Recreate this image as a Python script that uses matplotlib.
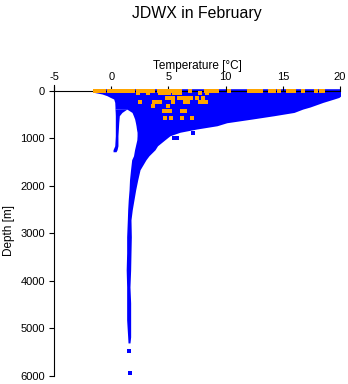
import matplotlib
matplotlib.use('Agg')
from matplotlib import pyplot as plt

plt.rcParams['font.family'] = ['Liberation Sans', 'DejaVu Sans']
plt.rcParams['axes.unicode_minus'] = False

# envelope of the blue profile cloud (main body + deep trunk)
body_depth = [-42, 36, 69, 105, 141, 175, 246, 343, 385, 389,
              457, 526, 596, 674, 737, 806, 874, 947, 1031, 1158,
              1242, 1368, 1452, 1663, 1873, 2084, 2294, 2505, 2715, 3073,
              3410, 3768, 4126, 4463, 4820, 5178, 5305]
body_tmin = [-1.53, -1.50, -0.80, -0.37, -0.08, 0.22, 0.31, 0.33, 0.33, 1.38,
             1.82, 1.94, 2.05, 2.12, 2.17, 2.21, 2.26, 2.26, 2.24, 2.12,
             2.04, 1.95, 1.79, 1.69, 1.60, 1.56, 1.49, 1.44, 1.41, 1.35,
             1.35, 1.31, 1.35, 1.35, 1.35, 1.44, 1.47]
body_tmax = [20.09, 20.09, 20.09, 20.09, 19.91, 19.47, 18.51, 17.38, 16.77, 16.72,
             15.98, 14.23, 12.31, 10.10, 9.25, 7.47, 6.01, 5.14, 4.70, 4.05,
             3.83, 3.30, 3.04, 2.52, 2.32, 2.14, 1.99, 1.84, 1.73, 1.76,
             1.73, 1.70, 1.64, 1.70, 1.70, 1.70, 1.64]

# thin cold branch on the left of the hole
branch_depth = [385, 457, 526, 667, 947, 1158, 1242, 1284]
branch_tmin = [0.33, 0.35, 0.36, 0.36, 0.36, 0.31, 0.16, 0.16]
branch_tmax = [1.38, 0.94, 0.71, 0.66, 0.59, 0.59, 0.51, 0.42]

# single blue stations away from the cloud
blue_temp = [5.45, 5.75, 7.18, 1.58, 1.67]
blue_depth = [996, 996, 890, 5473, 5943]

# orange (February) observations
surf_temp = [-1.42, -1.15, -0.89, -0.63, -0.19, 0.07, 0.33, 0.59, 0.86, 1.12,
             1.38, 1.64, 1.91, 2.34, 2.60, 2.87, 3.13, 3.39, 3.65, 4.18,
             4.44, 4.70, 4.97, 5.23, 5.49, 5.75, 6.01, 6.89, 8.29, 8.64,
             8.99, 9.25, 10.30, 12.05, 12.31, 12.57, 12.92, 13.10, 13.88, 14.23,
             14.67, 15.45, 15.72, 15.98, 16.77, 17.90, 18.34, 18.51]
deep_temp = [2.34, 3.22, 4.27, 4.53, 4.79, 5.05, 5.49, 5.75, 6.01, 7.76, 8.37,
             4.88, 5.14, 5.40, 5.93, 6.19, 6.45, 6.71, 6.98, 7.50, 8.02,
             2.52, 3.74, 4.00, 4.27, 5.40, 6.45, 6.71, 7.76, 8.02, 8.29,
             3.65, 4.97,
             4.62, 4.88, 5.14, 6.19, 6.45,
             4.70, 5.23, 6.19, 7.06]
deep_depth = [42] * 11 + [158] * 10 + [242] * 10 + [326] * 2 + [432] * 5 + [568] * 4

fig = plt.figure(figsize=(3.48, 3.84), dpi=100)
ax = fig.add_axes([54 / 348, 8 / 384, 286 / 348, 291 / 384])

ax.fill_betweenx(body_depth, body_tmin, body_tmax, color='blue', lw=0, antialiased=False)
ax.fill_betweenx(branch_depth, branch_tmin, branch_tmax, color='blue', lw=0, antialiased=False)
ax.scatter(blue_temp, blue_depth, s=5, marker='s', color='blue', linewidths=0)

ax.scatter(surf_temp, [0] * len(surf_temp), s=5, marker='s', color='orange', linewidths=0, zorder=3)
ax.scatter(deep_temp, deep_depth, s=5, marker='s', color='orange', linewidths=0, zorder=3)

ax.set_xlim(-5, 20)
ax.set_ylim(6000, -120)
ax.set_xticks([-5, 0, 5, 10, 15, 20])
ax.set_yticks([0, 1000, 2000, 3000, 4000, 5000, 6000])

ax.spines['top'].set_position(('data', 0))
ax.spines['bottom'].set_visible(False)
ax.spines['right'].set_visible(False)
ax.xaxis.set_ticks_position('top')
ax.xaxis.set_label_position('top')
ax.tick_params(direction='out', length=3.6, width=0.8, labelsize=8, pad=3)

ax.set_xlabel('Temperature [°C]', fontsize=8.5)
ax.xaxis.set_label_coords(0.5, 1.055)
ax.set_ylabel('Depth [m]', fontsize=8.5)
ax.yaxis.set_label_coords(-0.136, 0.5)

fig.text(197 / 348, 1 - 17.7 / 384, 'JDWX in February', ha='center', va='baseline', fontsize=11.4)

plt.savefig('out.png', dpi=100)
